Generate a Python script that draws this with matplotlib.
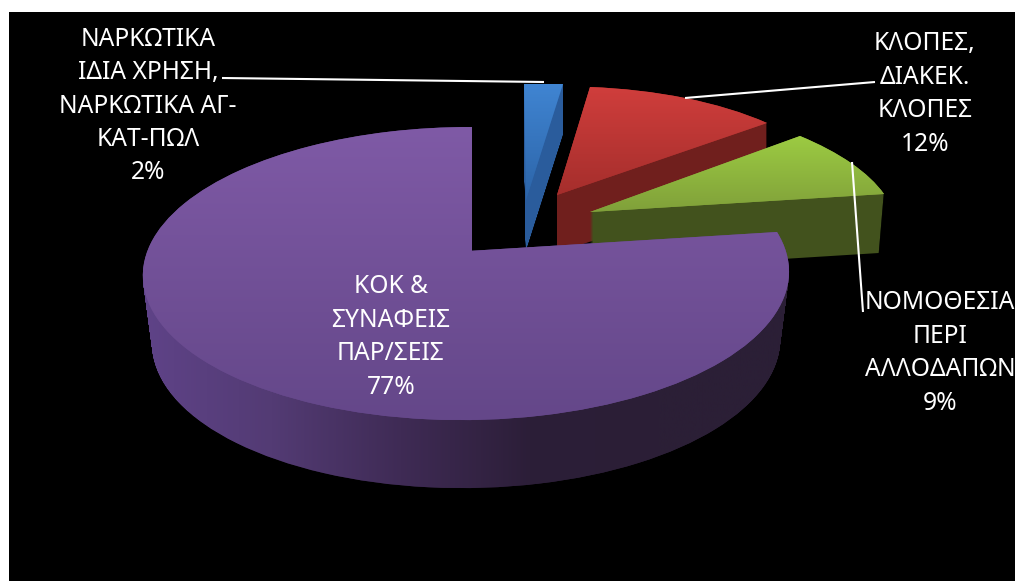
import numpy as np
import matplotlib
matplotlib.use("Agg")
import matplotlib.pyplot as plt
from matplotlib.colors import LinearSegmentedColormap
from matplotlib.patches import PathPatch
from matplotlib.path import Path
from matplotlib.transforms import Transform

# ---- data ----
categories = ["ΝΑΡΚΩΤΙΚΑ\nΙΔΙΑ ΧΡΗΣΗ,\nΝΑΡΚΩΤΙΚΑ ΑΓ-\nΚΑΤ-ΠΩΛ",
              "ΚΛΟΠΕΣ,\nΔΙΑΚΕΚ.\nΚΛΟΠΕΣ",
              "ΝΟΜΟΘΕΣΙΑ\nΠΕΡΙ\nΑΛΛΟΔΑΠΩΝ",
              "ΚΟΚ &\nΣΥΝΑΦΕΙΣ\nΠΑΡ/ΣΕΙΣ"]
values = [2, 12, 9, 77]

# ---- style: colours ----
top_grad = [("#4085d2", "#2c64a8"), ("#d03e3c", "#a52e2c"),
            ("#9ccb42", "#80a03a"), ("#7f5aa6", "#644789")]
wall_cols = ["#2a5c9c", "#701f1d", "#42521d", None]
purple_wall = ["#5f4388", "#533b74", "#3f2b55", "#2c1e38", "#2b1f36", "#2b1f36"]

# ---- style: 3-D look, how each unit-circle sector lands on the canvas ----
anchors = [
    ((526, 200), (563, 84), (544, 84), (524, 84)),
    ((557, 195), (590, 87), (685, 98), (767, 123)),
    ((590, 212), (800, 136), (851, 163), (884, 194)),
    ((777, 232), (472, 127), (143, 271), (472, 420)),
]
depths = [50, 58, 59, 68]
tapers = [0.0, 0.0, 0.017, 0.028]
label_pos = [(148, 106), (925, 94), (940, 353), (391, 337)]
leaders = [[(222, 78), (544, 82)], [(685, 98), (875, 82)], [(852, 162), (863, 312)]]


def solve_h(src, dst):
    A, b = [], []
    for (x, y), (u, v) in zip(src, dst):
        A.append([x, y, 1, 0, 0, 0, -u * x, -u * y]); b.append(u)
        A.append([0, 0, 0, x, y, 1, -v * x, -v * y]); b.append(v)
    return np.append(np.linalg.solve(np.array(A, float), np.array(b, float)), 1).reshape(3, 3)


class Homography(Transform):
    input_dims = output_dims = 2
    is_separable = False
    has_inverse = False

    def __init__(self, m):
        super().__init__()
        self.m = m

    def transform_non_affine(self, pts):
        pts = np.asarray(pts, float)
        q = np.c_[pts, np.ones(len(pts))] @ self.m.T
        return q[:, :2] / q[:, 2:3]


def unit(deg):
    r = np.radians(deg)
    return (np.cos(r), np.sin(r))


plt.rcParams["font.family"] = ["Noto Sans", "DejaVu Sans"]
fig = plt.figure(figsize=(10.15, 5.81), dpi=100, facecolor="white")
ax = fig.add_axes([9 / 1015, 0, 1006 / 1015, 569 / 581], facecolor="black")

wedges, _ = ax.pie(values, startangle=90, counterclock=False, frame=False)
ax.set_axis_on()
ax.set_frame_on(True)
ax.patch.set_visible(True)
ax.set_aspect("auto")
ax.set_xticks([]); ax.set_yticks([])
for s in ax.spines.values():
    s.set_visible(False)

for i, w in enumerate(wedges):
    t1, t2 = w.theta1, w.theta2   # drawn clockwise: t2 is the first arc end
    if i == 3:
        src = [unit(t2), unit(90), unit(t2 + 180), unit(270)]
    else:
        src = [(0, 0), unit(t2), unit((t1 + t2) / 2), unit(t1)]
    H = Homography(solve_h(src, anchors[i]))
    z = 2 + i * 4

    base = H.transform_path(w.get_path())
    cx = H.transform_non_affine(np.array([[0.0, 0.0]]))[0, 0]
    layers = []
    for d in range(1, depths[i] + 1):
        k = 1 - tapers[i] * d / depths[i]
        v = base.vertices.copy()
        v[:, 0] = cx + (v[:, 0] - cx) * k
        v[:, 1] += d
        layers.append(Path(v, base.codes))
    wall = Path.make_compound_path(*layers)
    wp = PathPatch(wall, lw=0, zorder=z,
                   facecolor=wall_cols[i] if wall_cols[i] else purple_wall[3])
    ax.add_patch(wp)
    x0, y0 = base.vertices.min(0)
    x1, y1 = base.vertices.max(0)
    if wall_cols[i] is None:
        cm = LinearSegmentedColormap.from_list("w", purple_wall)
        im = ax.imshow(np.linspace(0, 1, 256)[None, :], cmap=cm, aspect="auto",
                       extent=(x0, x1, y1 + 80, y0), zorder=z + 1)
        im.set_clip_path(wp)

    w.set_transform(H + ax.transData)
    w.set_facecolor(top_grad[i][1])
    w.set_edgecolor("none")
    w.set_zorder(z + 2)
    cm = LinearSegmentedColormap.from_list("t", top_grad[i])
    im = ax.imshow(np.linspace(0, 1, 256)[:, None], cmap=cm, aspect="auto",
                   extent=(x0, x1, y1, y0), zorder=z + 3)
    im.set_clip_path(w)

ax.set_xlim(9, 1015)
ax.set_ylim(581, 12)

for seg in leaders:
    ax.plot(*zip(*seg), color="white", lw=1.5, zorder=30, solid_capstyle="butt")

for cat, v, (x, y) in zip(categories, values, label_pos):
    ax.text(x, y, f"{cat}\n{v}%", color="white", fontsize=17.7, ha="center", va="center",
            linespacing=1.44, zorder=31)

fig.savefig("out.png", dpi=100, facecolor="white")
